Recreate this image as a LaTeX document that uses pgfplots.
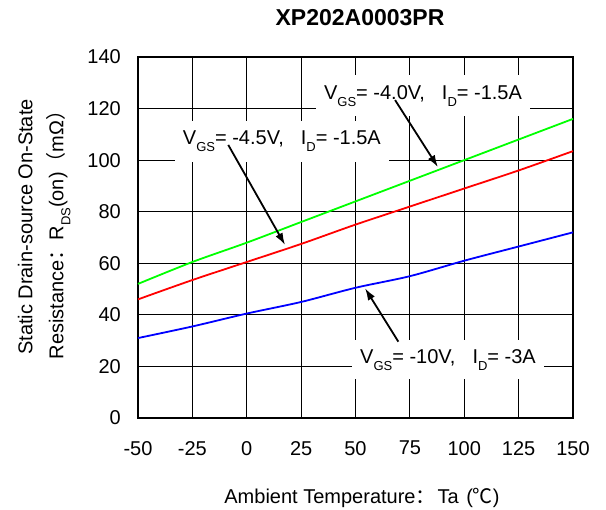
\documentclass[border=0pt]{standalone}
\usepackage{fontspec}
\setmainfont{Liberation Sans}
\newfontfamily\cjk{Noto Sans CJK SC}
\usepackage{pgfplots}
\pgfplotsset{compat=1.18}
\usetikzlibrary{arrows.meta}

\newcommand\sub[1]{\raisebox{-7pt}{\fontsize{13}{13}\selectfont #1}}
\newcommand\sep{,\hspace{17pt}}

\tikzset{lbl/.style={fill=white, inner xsep=8pt, anchor=base west,
  font=\fontsize{20}{24}\selectfont}}

\begin{document}
\begin{tikzpicture}
\begin{axis}[
  name=ax, at={(0,0)}, anchor=south west,
  scale only axis, width=435pt, height=361pt,
  xmin=-50, xmax=150, ymin=0, ymax=140,
  xtick={-50,-25,...,150}, ytick={0,20,...,140},
  grid=major, major grid style={black, line width=0.8pt},
  axis line style={line width=2pt},
  major tick length=0pt,
  tick label style={font=\fontsize{20}{24}\selectfont},
  /pgf/number format/assume math mode=true,
  xticklabel style={anchor=north, inner sep=0pt, yshift=-23pt},
  yticklabel style={anchor=east, inner sep=0pt, xshift=-17pt},
  clip=false,
]

% VGS=-4.0V, ID=-1.5A
\addplot[color={rgb,255:red,0;green,255;blue,0}, line width=1.8pt, smooth] coordinates {
(-50,52) (-25,60.5) (0,68) (25,76) (50,84) (75,92) (100,100) (125,108) (150,116)
};
% VGS=-4.5V, ID=-1.5A
\addplot[color={rgb,255:red,255;green,0;blue,0}, line width=1.8pt, smooth] coordinates {
(-50,46) (-25,53.5) (0,60.5) (25,67.5) (50,75) (75,82) (100,89) (125,96) (150,103.5)
};
% VGS=-10V, ID=-3A
\addplot[color={rgb,255:red,0;green,0;blue,255}, line width=1.8pt, smooth] coordinates {
(-50,31) (-25,35.5) (0,40.5) (25,45) (50,50.5) (75,55) (100,61) (125,66.5) (150,72)
};

\node[lbl, inner ysep=10pt] at (axis cs:31.8,123.7)
  {V\sub{GS}= -4.0V\sep I\sub{D}= -1.5A};
\node[lbl, inner ysep=10pt] at (axis cs:-33.1,105.9)
  {V\sub{GS}= -4.5V\sep I\sub{D}= -1.5A};
\node[lbl, inner ysep=9pt] at (axis cs:48.4,21.2)
  {V\sub{GS}= -10V\sep I\sub{D}= -3A};

\draw[-{Latex[length=12pt,width=8pt]}, line width=1.8pt] (axis cs:68.2,123.3) -- (axis cs:87.9,97.3);
\draw[-{Latex[length=12pt,width=8pt]}, line width=1.8pt] (axis cs:-8.5,105.9) -- (axis cs:17.6,67.1);
\draw[-{Latex[length=12pt,width=8pt]}, line width=1.8pt] (axis cs:69.7,29.6) -- (axis cs:54.4,50.3);
\end{axis}

\node[font=\bfseries\fontsize{23}{27}\selectfont] at (222pt,400pt) {XP202A0003PR};
\node[font=\fontsize{20}{24}\selectfont, anchor=base] at (224pt,-85.3pt)
  {Ambient Temperature{\cjk ：}\hspace{2pt}Ta\hspace{2pt} ({\cjk ℃})};
\node[font=\fontsize{20}{24}\selectfont, anchor=base, rotate=90] at (-105.5pt,191pt)
  {Static Drain-source On-State};
\node[font=\fontsize{20}{24}\selectfont, anchor=base, rotate=90] at (-74.7pt,188pt)
  {Resistance{\cjk ：}R\sub{DS}(on){\cjk （}mΩ{\cjk ）}};

\pgfresetboundingbox
\path[use as bounding box] (-138pt,-92pt) rectangle (468pt,418pt);
\end{tikzpicture}
\end{document}
